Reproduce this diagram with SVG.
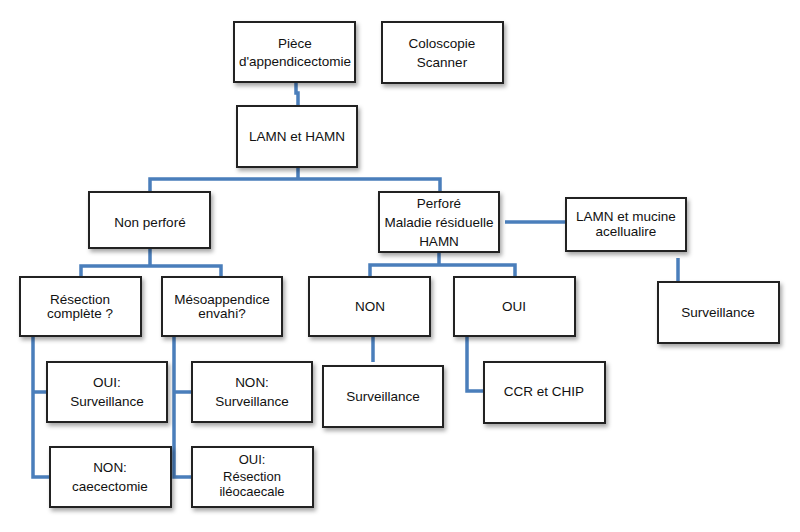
<svg xmlns="http://www.w3.org/2000/svg" width="800" height="532" viewBox="0 0 800 532">
<defs>
<filter id="sh" x="-10%" y="-10%" width="130%" height="130%">
<feDropShadow dx="2" dy="3" stdDeviation="2" flood-color="#000" flood-opacity="0.35"/>
</filter>
</defs>
<style>
.b{fill:#fff;stroke:#222;stroke-width:2;filter:url(#sh)}
.t{font-family:"Liberation Sans",Arial,sans-serif;font-size:13.5px;fill:#111;text-anchor:middle}
.s{font-size:13px}
.c{fill:none;stroke:#4a7ebb;stroke-width:3.5;stroke-linejoin:miter}
</style>
<rect width="800" height="532" fill="#fff"/>
<g id="connectors">
<path class="c" d="M296 82 V93 H298 V106"/>
<path class="c" d="M298 167 V179 M150 192 V179 H440 V192"/>
<path class="c" d="M150 248 V266 M81 277 V266 H221 V277"/>
<path class="c" d="M439 252 V265 M370 277 V265 H515 V277"/>
<path class="c" d="M505 222 H567"/>
<path class="c" d="M678 258 V284"/>
<path class="c" d="M373 336 V362"/>
<path class="c" d="M467 336 V391 H484"/>
<path class="c" d="M33 336 V477 H50 M33 392 H47"/>
<path class="c" d="M174 336 V477 H192 M174 392 H192"/>
</g>
<g id="n1"><rect class="b" x="234" y="22" width="121" height="60"/><text class="t" x="295" y="48">Pièce</text><text class="t" x="295" y="66">d'appendicectomie</text></g>
<g id="n2"><rect class="b" x="382" y="22" width="121" height="61"/><text class="t" x="442" y="48">Coloscopie</text><text class="t" x="442" y="67">Scanner</text></g>
<g id="n3"><rect class="b" x="237" y="106" width="120" height="61"/><text class="t" x="297" y="141">LAMN et HAMN</text></g>
<g id="n4"><rect class="b" x="89" y="192" width="121" height="56"/><text class="t" x="150" y="227">Non perforé</text></g>
<g id="n5"><rect class="b" x="379" y="192" width="120" height="60"/><text class="t" x="439" y="208">Perforé</text><text class="t" x="439" y="227">Maladie résiduelle</text><text class="t" x="439" y="246">HAMN</text></g>
<g id="n6"><rect class="b" x="566" y="198" width="120" height="53"/><text class="t" x="626" y="221">LAMN et mucine</text><text class="t" x="626" y="236">acellualire</text></g>
<g id="n7"><rect class="b" x="20" y="277" width="121" height="59"/><text class="t" x="80" y="304">Résection</text><text class="t" x="80" y="318">complète ?</text></g>
<g id="n8"><rect class="b" x="162" y="277" width="120" height="59"/><text class="t" x="222" y="304">Mésoappendice</text><text class="t" x="222" y="318">envahi?</text></g>
<g id="n9"><rect class="b" x="309" y="277" width="121" height="59"/><text class="t" x="370" y="311">NON</text></g>
<g id="n10"><rect class="b" x="454" y="277" width="121" height="59"/><text class="t" x="514" y="311">OUI</text></g>
<g id="n11"><rect class="b" x="658" y="282" width="121" height="61"/><text class="t" x="718" y="317">Surveillance</text></g>
<g id="n12"><rect class="b" x="47" y="362" width="120" height="60"/><text class="t" x="107" y="387">OUI:</text><text class="t" x="107" y="406">Surveillance</text></g>
<g id="n13"><rect class="b" x="192" y="362" width="120" height="60"/><text class="t" x="252" y="387">NON:</text><text class="t" x="252" y="406">Surveillance</text></g>
<g id="n14"><rect class="b" x="323" y="366" width="120" height="61"/><text class="t" x="383" y="401">Surveillance</text></g>
<g id="n15"><rect class="b" x="484" y="362" width="121" height="61"/><text class="t" x="544" y="396">CCR et CHIP</text></g>
<g id="n16"><rect class="b" x="50" y="447" width="121" height="60"/><text class="t" x="110" y="472">NON:</text><text class="t" x="110" y="491">caecectomie</text></g>
<g id="n17"><rect class="b" x="192" y="447" width="121" height="60"/><text class="t s" x="252" y="464">OUI:</text><text class="t s" x="252" y="481">Résection</text><text class="t s" x="252" y="496">iléocaecale</text></g>
</svg>
